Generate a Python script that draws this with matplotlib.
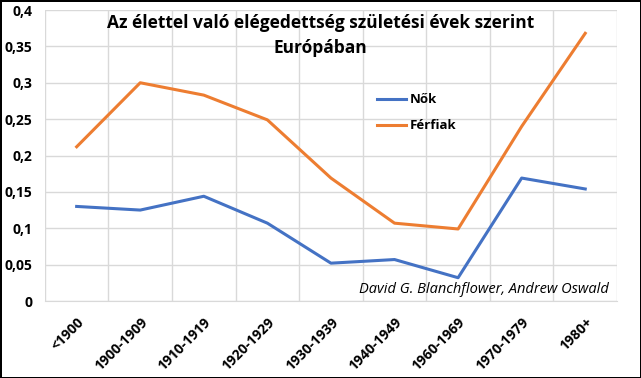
import matplotlib
matplotlib.use("Agg")
import matplotlib.pyplot as plt
import numpy as np

# data
categories = ["<1900", "1900-1909", "1910-1919", "1920-1929", "1930-1939",
              "1940-1949", "1960-1969", "1970-1979", "1980+"]
nok = [0.130, 0.125, 0.144, 0.107, 0.052, 0.057, 0.032, 0.169, 0.154]
ferfiak = [0.212, 0.300, 0.283, 0.249, 0.169, 0.107, 0.099, 0.240, 0.368]
yticks = [0, 0.05, 0.1, 0.15, 0.2, 0.25, 0.3, 0.35, 0.4]
ytick_labels = ["0", "0,05", "0,1", "0,15", "0,2", "0,25", "0,3", "0,35", "0,4"]

plt.rcParams["font.family"] = ["Open Sans", "DejaVu Sans"]

fig = plt.figure(figsize=(6.41, 3.78), dpi=100)
fig.patch.set_edgecolor("black")
fig.patch.set_linewidth(2)
ax = fig.add_axes([0.070, 0.2037, 0.8926, 0.7698])

x = np.arange(len(categories))
ax.plot(x, nok, color="#4472C4", lw=2.2, label="Nők")
ax.plot(x, ferfiak, color="#ED7D31", lw=2.2, label="Férfiak")

ax.set_xlim(-0.5, len(categories) - 0.5)
ax.set_ylim(0, 0.4)
ax.set_yticks(yticks)
ax.set_yticklabels(ytick_labels, fontweight="bold", fontsize=10)
ax.set_xticks(x)
ax.set_xticklabels(categories, rotation=45, ha="right", rotation_mode="anchor",
                   fontweight="bold", fontsize=10)
ax.set_xticks(np.arange(-0.5, len(categories)), minor=True)
ax.tick_params(which="both", length=0)
ax.tick_params(axis="y", pad=9)
ax.tick_params(axis="x", pad=10)
ax.grid(True, which="minor", axis="x", color="#d9d9d9", lw=1)
ax.grid(True, which="major", axis="y", color="#d9d9d9", lw=1)
ax.set_axisbelow(True)
for s in ["top", "right", "left"]:
    ax.spines[s].set_visible(False)
ax.spines["bottom"].set_color("#d9d9d9")

fig.text(0.5, 0.963, "Az élettel való elégedettség születési évek szerint\nEurópában",
         ha="center", va="top", fontsize=12.5, fontweight="bold", linespacing=1.5)

ax.legend(loc="upper left", bbox_to_anchor=(0.56, 0.755), frameon=False,
          prop={"weight": "bold", "size": 9.5}, handlelength=2.2,
          handletextpad=0.3, labelspacing=1.0)

ax.text(0.985, 0.015, "David G. Blanchflower, Andrew Oswald", transform=ax.transAxes,
        ha="right", va="bottom", fontsize=10.5, style="italic")

fig.savefig("out.png", dpi=100)
